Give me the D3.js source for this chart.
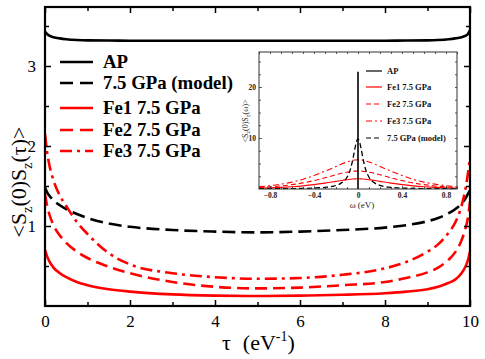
<!DOCTYPE html>
<html><head><meta charset="utf-8">
<script src="https://cdn.jsdelivr.net/npm/d3@7/dist/d3.min.js"></script>
<style>body{margin:0;background:#fff}svg{display:block}
svg text{font-family:"Liberation Serif","Times New Roman","DejaVu Serif",serif;}
</style>
</head><body>
<svg id="c" width="485" height="359"></svg>
<script>
// ---- main panel data ----
const tau   = [0, 0.05, 0.1, 0.2, 0.35, 0.5, 0.75, 1, 1.5, 2, 3, 4, 5, 6, 7, 8, 8.5, 9, 9.25, 9.5, 9.65, 9.8, 9.9, 9.95, 10];
const apVals    = [3.43, 3.40, 3.38, 3.36, 3.345, 3.335, 3.325, 3.32, 3.318, 3.316, 3.315, 3.315, 3.315, 3.315, 3.315, 3.316, 3.318, 3.32, 3.325, 3.335, 3.345, 3.36, 3.38, 3.40, 3.45];
const modelVals = [1.48, 1.42, 1.38, 1.32, 1.26, 1.21, 1.15, 1.10, 1.03, 0.99, 0.95, 0.93, 0.92, 0.93, 0.95, 0.98, 1.01, 1.06, 1.10, 1.16, 1.21, 1.28, 1.35, 1.40, 1.45];
const fe1Vals   = [0.70, 0.62, 0.56, 0.48, 0.41, 0.36, 0.30, 0.26, 0.21, 0.18, 0.145, 0.13, 0.125, 0.13, 0.14, 0.16, 0.18, 0.21, 0.24, 0.29, 0.33, 0.41, 0.50, 0.57, 0.68];
const fe2Vals   = [1.40, 1.25, 1.15, 1.01, 0.88, 0.79, 0.68, 0.60, 0.49, 0.41, 0.30, 0.24, 0.22, 0.23, 0.26, 0.30, 0.35, 0.42, 0.48, 0.58, 0.67, 0.82, 0.98, 1.10, 1.30];
const fe3Vals   = [2.15, 1.92, 1.77, 1.57, 1.38, 1.25, 1.05, 0.90, 0.66, 0.52, 0.41, 0.36, 0.34, 0.35, 0.39, 0.47, 0.55, 0.68, 0.77, 0.92, 1.04, 1.25, 1.48, 1.65, 1.85];
const mainXTicks = [0, 2, 4, 6, 8, 10];
const mainYTicks = [1, 2, 3];
const mainLegend = ["AP", "7.5 GPa (model)", "Fe1 7.5 GPa", "Fe2 7.5 GPa", "Fe3 7.5 GPa"];

// ---- inset data ----
const omega   = [-0.9, -0.8, -0.7, -0.6, -0.5, -0.4, -0.3, -0.2, -0.15, -0.1, -0.07, -0.05, -0.03, -0.015, 0, 0.015, 0.03, 0.05, 0.07, 0.1, 0.15, 0.2, 0.3, 0.4, 0.5, 0.6, 0.7, 0.8, 0.9];
const inFe1   = [0.15, 0.22, 0.32, 0.45, 0.62, 0.85, 1.15, 1.5, 1.68, 1.82, 1.9, 1.95, 1.98, 2.0, 2.0, 2.0, 1.98, 1.95, 1.9, 1.82, 1.68, 1.5, 1.15, 0.85, 0.62, 0.45, 0.32, 0.22, 0.15];
const inFe2   = [0.3, 0.42, 0.6, 0.85, 1.2, 1.65, 2.2, 2.8, 3.1, 3.3, 3.4, 3.45, 3.5, 3.5, 3.5, 3.5, 3.5, 3.45, 3.4, 3.3, 3.1, 2.8, 2.2, 1.65, 1.2, 0.85, 0.6, 0.42, 0.3];
const inFe3   = [0.45, 0.65, 0.95, 1.35, 1.9, 2.65, 3.5, 4.4, 4.9, 5.3, 5.5, 5.6, 5.7, 5.7, 5.75, 5.7, 5.7, 5.6, 5.5, 5.3, 4.9, 4.4, 3.5, 2.65, 1.9, 1.35, 0.95, 0.65, 0.45];
const inModel = [0.04, 0.05, 0.06, 0.08, 0.12, 0.19, 0.33, 0.7, 1.2, 2.3, 3.8, 5.5, 7.7, 9.2, 9.8, 9.2, 7.7, 5.5, 3.8, 2.3, 1.2, 0.7, 0.33, 0.19, 0.12, 0.08, 0.06, 0.05, 0.04];
const apSpike = [0, 23];
const inXTicks = [-0.8, -0.4, 0, 0.4, 0.8];
const inYTicks = [10, 20];
const inLegend = ["AP", "Fe1 7.5 GPa", "Fe2 7.5 GPa", "Fe3 7.5 GPa", "7.5 GPa (model)"];

const svg = d3.select("#c");
const RED = "#ff0000";

// ---------- main panel ----------
const x = d3.scaleLinear().domain([0, 10]).range([45, 470]);
const y = d3.scaleLinear().domain([0, 299/80]).range([306, 7]);

svg.append("defs").append("clipPath").attr("id","mclip")
  .append("rect").attr("x",45).attr("y",7).attr("width",425).attr("height",299);

const line = d3.line().x(d => x(d[0])).y(d => y(d[1])).curve(d3.curveMonotoneX);
const mainSeries = [
  {v: apVals,    c: "#000", dash: null},
  {v: modelVals, c: "#000", dash: "13,6"},
  {v: fe1Vals,   c: RED,    dash: null},
  {v: fe2Vals,   c: RED,    dash: "12,6"},
  {v: fe3Vals,   c: RED,    dash: "12,5,3,5"}
];
const gm = svg.append("g").attr("clip-path","url(#mclip)");
mainSeries.forEach(s => {
  gm.append("path").datum(tau.map((t,i)=>[t, s.v[i]]))
    .attr("d", line).attr("fill","none").attr("stroke", s.c)
    .attr("stroke-width", 2.6).attr("stroke-dasharray", s.dash);
});

// axes
const xb = svg.append("g").attr("transform","translate(0,306)")
  .call(d3.axisBottom(x).tickValues(mainXTicks).tickSize(-6).tickPadding(9).tickFormat(d3.format("d")));
const xbm = svg.append("g").attr("transform","translate(0,306)")
  .call(d3.axisBottom(x).tickValues([1,3,5,7,9]).tickSize(-4).tickFormat(""));
const xt = svg.append("g").attr("transform","translate(0,7)")
  .call(d3.axisTop(x).tickValues(mainXTicks).tickSize(-6).tickFormat(""));
const xtm = svg.append("g").attr("transform","translate(0,7)")
  .call(d3.axisTop(x).tickValues([1,3,5,7,9]).tickSize(-4).tickFormat(""));
const yl = svg.append("g").attr("transform","translate(45,0)")
  .call(d3.axisLeft(y).tickValues(mainYTicks).tickSize(-6).tickPadding(9).tickFormat(d3.format("d")));
const ylm = svg.append("g").attr("transform","translate(45,0)")
  .call(d3.axisLeft(y).tickValues([0.5,1.5,2.5,3.5]).tickSize(-4).tickFormat(""));
const yr = svg.append("g").attr("transform","translate(470,0)")
  .call(d3.axisRight(y).tickValues(mainYTicks).tickSize(-6).tickFormat(""));
const yrm = svg.append("g").attr("transform","translate(470,0)")
  .call(d3.axisRight(y).tickValues([0.5,1.5,2.5,3.5]).tickSize(-4).tickFormat(""));
[xb,xbm,xt,xtm,yl,ylm,yr,yrm].forEach(g => {
  g.attr("font-family", null);
  g.select(".domain").remove();
  g.selectAll("line").attr("stroke","#000").attr("stroke-width",1.5);
  g.selectAll("text").attr("font-size",17).attr("fill","#000");
});
svg.append("rect").attr("x",45).attr("y",7).attr("width",425).attr("height",299)
  .attr("fill","none").attr("stroke","#000").attr("stroke-width",2.2);

// axis labels
const xlab = svg.append("text").attr("x",222).attr("y",350).attr("font-size",22).attr("fill","#000");
xlab.append("tspan").text("τ");
xlab.append("tspan").attr("dx",12).text("(eV");
xlab.append("tspan").attr("dy",-9).attr("font-size",14).text("-1");
xlab.append("tspan").attr("dy",9).text(")");

const ylab = svg.append("text").attr("transform","translate(26,182) rotate(-90)")
  .attr("text-anchor","middle").attr("font-size",22).attr("fill","#000");
ylab.append("tspan").text("<S");
ylab.append("tspan").attr("dy",6).attr("font-size",14).text("z");
ylab.append("tspan").attr("dy",-6).text("(0)S");
ylab.append("tspan").attr("dy",6).attr("font-size",14).text("z");
ylab.append("tspan").attr("dy",-6).text("(τ)>");

// main legend
const legY = [62, 83, 108, 130, 151];
mainLegend.forEach((name, i) => {
  const s = mainSeries[i];
  svg.append("line").attr("x1",60).attr("x2",93).attr("y1",legY[i]).attr("y2",legY[i])
    .attr("stroke", s.c).attr("stroke-width",2.6).attr("stroke-dasharray", s.dash ? (i===4 ? "12,5,3,5" : "13,7") : null);
  svg.append("text").attr("x",103).attr("y",legY[i]+6)
    .attr("font-weight","bold").attr("font-size",18.8).attr("fill","#000").text(name);
});

// ---------- inset ----------
const ix = d3.scaleLinear().domain([-0.9, 0.9]).range([259, 457]);
const iy = d3.scaleLinear().domain([0, 137/5.1]).range([189, 52]);
svg.append("rect").attr("x",259).attr("y",52).attr("width",198).attr("height",137).attr("fill","#fff");
svg.append("defs").append("clipPath").attr("id","iclip")
  .append("rect").attr("x",259).attr("y",52).attr("width",198).attr("height",137);
const gi = svg.append("g").attr("clip-path","url(#iclip)");
const iline = d3.line().x(d => ix(d[0])).y(d => iy(d[1])).curve(d3.curveMonotoneX);
const inSeries = [
  {v: inFe1,   c: RED,  dash: null,     w: 1.1},
  {v: inFe2,   c: RED,  dash: "5,3",    w: 1.1},
  {v: inFe3,   c: RED,  dash: "6,3,2,3",w: 1.1},
  {v: inModel, c: "#000", dash: "5,3",  w: 1.3}
];
inSeries.forEach(s => {
  gi.append("path").datum(omega.map((w,i)=>[w, s.v[i]]))
    .attr("d", iline).attr("fill","none").attr("stroke", s.c)
    .attr("stroke-width", s.w).attr("stroke-dasharray", s.dash);
});
gi.append("line").attr("x1",ix(0)).attr("x2",ix(0)).attr("y1",iy(apSpike[0])).attr("y2",iy(apSpike[1]))
  .attr("stroke","#000").attr("stroke-width",1.6);

const inMinorX = d3.range(-0.9, 0.91, 0.1).map(v => +v.toFixed(1)).filter(v => !inXTicks.includes(v));
const inMinorY = [2.5, 5, 7.5, 12.5, 15, 17.5, 22.5, 25];
const ib = svg.append("g").attr("transform","translate(0,189)")
  .call(d3.axisBottom(ix).tickValues(inXTicks).tickSize(-3).tickPadding(4).tickFormat(d => d === 0 ? "0" : d3.format(".1f")(d)));
const ibm = svg.append("g").attr("transform","translate(0,189)")
  .call(d3.axisBottom(ix).tickValues(inMinorX).tickSize(-2).tickFormat(""));
const it = svg.append("g").attr("transform","translate(0,52)")
  .call(d3.axisTop(ix).tickValues(inXTicks.concat(inMinorX)).tickSize(-2).tickFormat(""));
const il = svg.append("g").attr("transform","translate(259,0)")
  .call(d3.axisLeft(iy).tickValues(inYTicks).tickSize(-3).tickPadding(3).tickFormat(d3.format("d")));
const ilm = svg.append("g").attr("transform","translate(259,0)")
  .call(d3.axisLeft(iy).tickValues(inMinorY).tickSize(-2).tickFormat(""));
const ir = svg.append("g").attr("transform","translate(457,0)")
  .call(d3.axisRight(iy).tickValues(inYTicks.concat(inMinorY)).tickSize(-2).tickFormat(""));
[ib,ibm,it,il,ilm,ir].forEach(g => {
  g.attr("font-family", null);
  g.select(".domain").remove();
  g.selectAll("line").attr("stroke","#333").attr("stroke-width",0.8);
  g.selectAll("text").attr("font-weight","bold").attr("font-size",7.5).attr("fill","#222");
});
svg.append("rect").attr("x",259).attr("y",52).attr("width",198).attr("height",137)
  .attr("fill","none").attr("stroke","#333").attr("stroke-width",1);

// inset axis labels
svg.append("text").attr("x",362).attr("y",208).attr("text-anchor","middle")
  .attr("font-size",9).attr("fill","#222").text("ω   (eV)");
const iyl = svg.append("text").attr("transform","translate(248,121) rotate(-90)")
  .attr("text-anchor","middle").attr("font-size",8).attr("fill","#222");
iyl.append("tspan").text("<S");
iyl.append("tspan").attr("dy",2).attr("font-size",6).text("z");
iyl.append("tspan").attr("dy",-2).text("(0)S");
iyl.append("tspan").attr("dy",2).attr("font-size",6).text("z");
iyl.append("tspan").attr("dy",-2).text("(ω)>");

// inset legend
const iLegY = [71, 87, 104, 121, 138];
const iLegStyle = [
  {c:"#000", dash:null}, {c:RED, dash:null}, {c:RED, dash:"5,3"}, {c:RED, dash:"6,3,2,3"}, {c:"#000", dash:"5,3"}
];
inLegend.forEach((name, i) => {
  const s = iLegStyle[i];
  svg.append("line").attr("x1",366).attr("x2",382).attr("y1",iLegY[i]).attr("y2",iLegY[i])
    .attr("stroke", s.c).attr("stroke-width",1.2).attr("stroke-dasharray", s.dash);
  svg.append("text").attr("x",387).attr("y",iLegY[i]+3)
    .attr("font-weight","bold").attr("font-size",8.5).attr("fill","#111").text(name);
});
</script>
</body></html>
